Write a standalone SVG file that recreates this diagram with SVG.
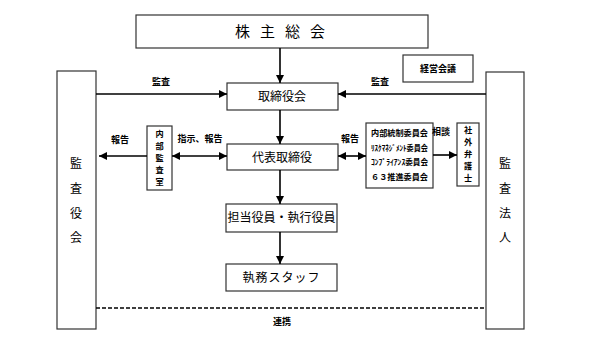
<svg xmlns="http://www.w3.org/2000/svg" width="599" height="355" viewBox="0 0 599 355">
<defs>
<marker id="ah" viewBox="0 0 8 8" refX="8" refY="4" markerWidth="8" markerHeight="8" markerUnits="userSpaceOnUse" orient="auto-start-reverse">
<path d="M0,0 L8,4 L0,8 z" fill="#000"/>
</marker>
<style>
.box{fill:#fff;stroke:#333;stroke-width:1.2}
.t{font-family:"Noto Sans CJK JP","Noto Sans CJK SC",sans-serif;fill:#000}
.m{font-size:12px}
.l{font-size:9px;font-weight:bold}
.v{font-size:12px}
.s{font-size:8.2px;font-weight:bold}
.c{font-size:8px;font-weight:bold}
.ln{stroke:#000;stroke-width:1.6;fill:none}
</style>
</defs>
<rect width="599" height="355" fill="#fff"/>

<g id="shareholders">
<rect class="box" x="136" y="15" width="292" height="33"/>
<text class="t" x="285" y="37" font-size="15" letter-spacing="10" text-anchor="middle">株主総会</text>
</g>
<g id="keiei">
<rect class="box" x="403" y="55" width="70" height="27"/>
<text class="t l" x="438" y="72" text-anchor="middle">経営会議</text>
</g>
<g id="kansayakukai">
<rect class="box" x="57" y="71" width="39" height="258"/>
<text class="t v" x="76" y="168" text-anchor="middle">監</text>
<text class="t v" x="76" y="193" text-anchor="middle">査</text>
<text class="t v" x="76" y="218" text-anchor="middle">役</text>
<text class="t v" x="76" y="242" text-anchor="middle">会</text>
</g>
<g id="kansahojin">
<rect class="box" x="486" y="72" width="38" height="257"/>
<text class="t v" x="505" y="168" text-anchor="middle">監</text>
<text class="t v" x="505" y="193" text-anchor="middle">査</text>
<text class="t v" x="505" y="218" text-anchor="middle">法</text>
<text class="t v" x="505" y="242" text-anchor="middle">人</text>
</g>
<g id="torishimariyakukai">
<rect class="box" x="227" y="83" width="111" height="27"/>
<text class="t m" x="282" y="101" text-anchor="middle">取締役会</text>
</g>
<g id="daihyo">
<rect class="box" x="227" y="144" width="111" height="26"/>
<text class="t m" x="282" y="162" text-anchor="middle">代表取締役</text>
</g>
<g id="naibukansa">
<rect class="box" x="147" y="126" width="25" height="64"/>
<text class="t s" x="159.5" y="137" text-anchor="middle">内</text>
<text class="t s" x="159.5" y="149" text-anchor="middle">部</text>
<text class="t s" x="159.5" y="161" text-anchor="middle">監</text>
<text class="t s" x="159.5" y="173" text-anchor="middle">査</text>
<text class="t s" x="159.5" y="185" text-anchor="middle">室</text>
</g>
<g id="committees">
<rect class="box" x="366" y="123" width="67" height="65"/>
<text class="t c" x="371" y="136" textLength="57" lengthAdjust="spacingAndGlyphs">内部統制委員会</text>
<text class="t c" x="371" y="151" textLength="57" lengthAdjust="spacingAndGlyphs">ﾘｽｸﾏﾈｼﾞﾒﾝﾄ委員会</text>
<text class="t c" x="371" y="165" textLength="57" lengthAdjust="spacingAndGlyphs">ｺﾝﾌﾟﾗｲｱﾝｽ委員会</text>
<text class="t c" x="371" y="180" textLength="57" lengthAdjust="spacingAndGlyphs">６３推進委員会</text>
</g>
<g id="bengoshi">
<rect class="box" x="457" y="123" width="22" height="63"/>
<text class="t s" x="468" y="133" text-anchor="middle">社</text>
<text class="t s" x="468" y="145" text-anchor="middle">外</text>
<text class="t s" x="468" y="157" text-anchor="middle">弁</text>
<text class="t s" x="468" y="169" text-anchor="middle">護</text>
<text class="t s" x="468" y="181" text-anchor="middle">士</text>
</g>
<g id="tanto">
<rect class="box" x="226" y="204" width="111" height="28"/>
<text class="t m" x="281.5" y="222" text-anchor="middle">担当役員・執行役員</text>
</g>
<g id="staff">
<rect class="box" x="226" y="264" width="111" height="27"/>
<text class="t m" x="281.5" y="282" text-anchor="middle" letter-spacing="1">執務スタッフ</text>
</g>

<g id="connectors">
<line class="ln" x1="280" y1="48" x2="280" y2="83" marker-end="url(#ah)"/>
<line class="ln" x1="280" y1="110" x2="280" y2="144" marker-end="url(#ah)"/>
<line class="ln" x1="280" y1="170" x2="280" y2="204" marker-end="url(#ah)"/>
<line class="ln" x1="280" y1="232" x2="280" y2="264" marker-end="url(#ah)"/>
<line class="ln" x1="96" y1="94" x2="227" y2="94" marker-end="url(#ah)"/>
<line class="ln" x1="486" y1="94" x2="338" y2="94" marker-end="url(#ah)"/>
<line class="ln" x1="147" y1="156" x2="99" y2="156" marker-end="url(#ah)"/>
<line class="ln" x1="172" y1="156" x2="227" y2="156" marker-start="url(#ah)" marker-end="url(#ah)"/>
<line class="ln" x1="338" y1="156" x2="366" y2="156" marker-start="url(#ah)" marker-end="url(#ah)"/>
<line class="ln" x1="433" y1="155" x2="457" y2="155" marker-end="url(#ah)"/>
<line class="ln" x1="96" y1="308" x2="486" y2="308" stroke-dasharray="4,2"/>
<text class="t l" x="161" y="85" text-anchor="middle">監査</text>
<text class="t l" x="380" y="85" text-anchor="middle">監査</text>
<text class="t l" x="120" y="143" text-anchor="middle">報告</text>
<text class="t l" x="200" y="142" text-anchor="middle">指示、報告</text>
<text class="t l" x="350" y="142" text-anchor="middle">報告</text>
<text class="t l" x="441" y="135" text-anchor="middle">相談</text>
<text class="t l" x="282" y="325" text-anchor="middle">連携</text>
</g>
</svg>
